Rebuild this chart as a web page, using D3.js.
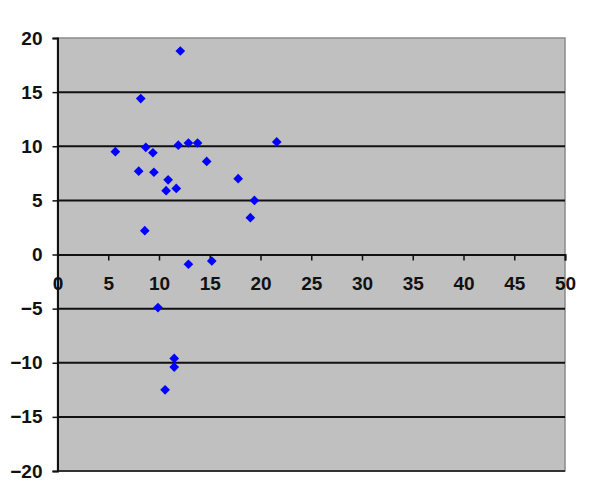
<!DOCTYPE html>
<html>
<head>
<meta charset="utf-8">
<script src="https://cdn.jsdelivr.net/npm/d3@7"></script>
<style>
body{margin:0;background:#fff;}
text{font-family:"Liberation Sans",Arial,sans-serif;font-weight:bold;font-size:19px;fill:#111;}
</style>
</head>
<body>
<script>
// values
var xValues = [5.7, 8.2, 8.7, 9.4, 8.0, 9.5, 12.1, 11.9, 12.9, 13.8, 14.7, 21.6,
	10.9, 10.7, 11.7, 17.8, 19.4, 19.0, 8.6, 12.9, 15.2, 9.9, 11.5, 11.5, 10.6];
var yValues = [9.5, 14.4, 9.9, 9.4, 7.7, 7.6, 18.8, 10.1, 10.3, 10.3, 8.6, 10.4,
	6.9, 5.9, 6.1, 7.0, 5.0, 3.4, 2.2, -0.9, -0.6, -4.9, -9.6, -10.4, -12.5];
var xTicks = [0, 5, 10, 15, 20, 25, 30, 35, 40, 45, 50];
var yTicks = [-20, -15, -10, -5, 0, 5, 10, 15, 20];

var width = 600, height = 493;
var plotLeft = 57.5, plotRight = 565, plotTop = 38, plotBottom = 471;

var svg = d3.select("body").append("svg")
	.attr("width", width)
	.attr("height", height);

var x = d3.scaleLinear().domain([0, 50]).range([plotLeft, plotRight]);
var y = d3.scaleLinear().domain([-20, 20]).range([plotBottom, plotTop]);

//plot area
svg.append("rect")
	.attr("x", plotLeft).attr("y", plotTop)
	.attr("width", plotRight - plotLeft).attr("height", plotBottom - plotTop)
	.attr("fill", "#c0c0c0")
	.attr("stroke", "#8a8a8a")
	.attr("stroke-width", 1.5);

//gridlines
svg.selectAll(".grid")
	.data(yTicks.filter(function(d){ return d > -20 && d < 20 && d != 0; }))
	.enter().append("line")
	.attr("class", "grid")
	.attr("x1", plotLeft).attr("x2", plotRight)
	.attr("y1", function(d){ return y(d); })
	.attr("y2", function(d){ return y(d); })
	.attr("stroke", "#111")
	.attr("stroke-width", 2);

svg.append("line")
	.attr("x1", plotLeft).attr("x2", plotRight)
	.attr("y1", y(-20)).attr("y2", y(-20))
	.attr("stroke", "#333").attr("stroke-width", 2);

//y axis
var yAxis = svg.append("g")
	.attr("transform", "translate(" + plotLeft + ",0)")
	.call(d3.axisLeft(y).tickValues(yTicks).tickSize(5).tickPadding(10));
yAxis.select(".domain").attr("stroke", "#111").attr("stroke-width", 2);
yAxis.selectAll(".tick line").attr("stroke", "#111").attr("stroke-width", 1.5);
yAxis.selectAll("text").attr("font-size", 19).attr("font-family", null).attr("fill", "#111");

//x axis at zero
var xAxis = svg.append("g")
	.attr("transform", "translate(0," + y(0) + ")")
	.call(d3.axisBottom(x).tickValues(xTicks).tickSizeOuter(0).tickSize(6).tickPadding(16));
xAxis.select(".domain").attr("stroke", "#111").attr("stroke-width", 2);
xAxis.selectAll(".tick line").attr("stroke", "#111").attr("stroke-width", 1.5);
xAxis.selectAll("text").attr("font-size", 19).attr("font-family", null).attr("fill", "#111");

//points
var points = xValues.map(function(d, i){ return {x: d, y: yValues[i]}; });
svg.selectAll(".pt")
	.data(points)
	.enter().append("path")
	.attr("class", "pt")
	.attr("d", d3.symbol().type(d3.symbolDiamond2).size(60))
	.attr("transform", function(d){ return "translate(" + x(d.x) + "," + y(d.y) + ")"; })
	.attr("fill", "#0000ff");
</script>
</body>
</html>
